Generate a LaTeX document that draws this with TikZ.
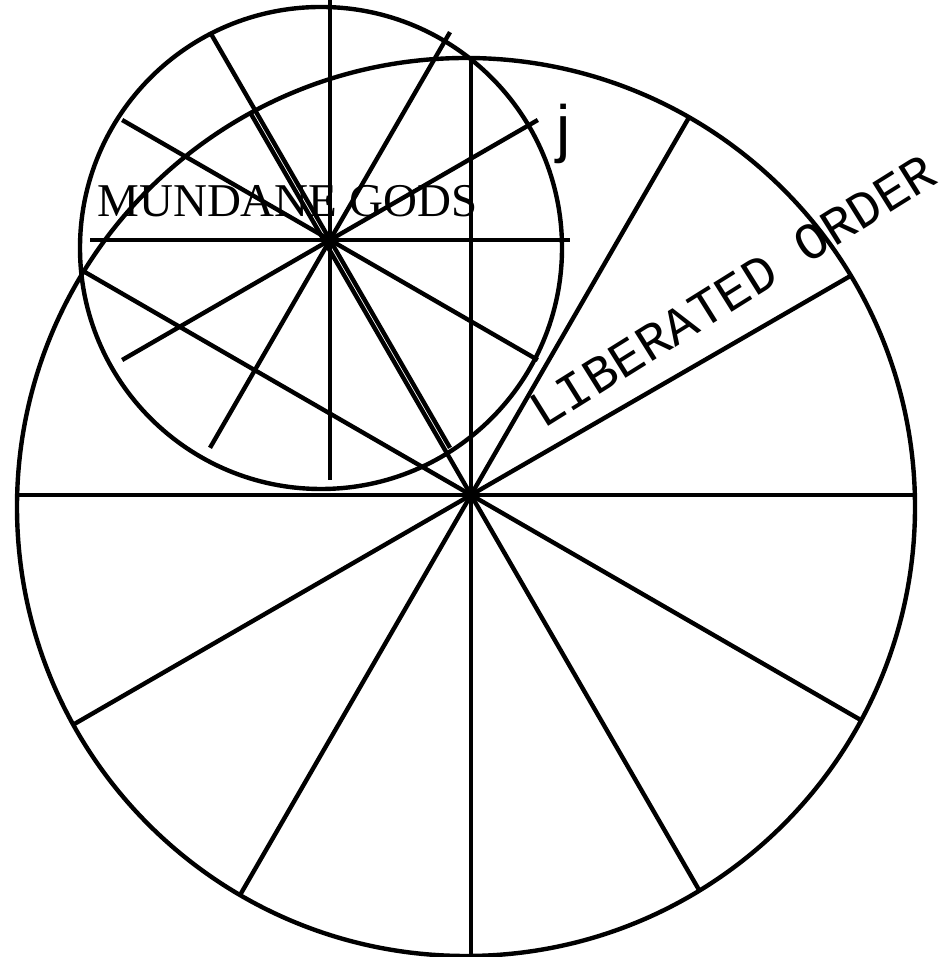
\documentclass[tikz,border=0pt]{standalone}
\usepackage{fontspec}
\newfontfamily\godsfont{Liberation Serif}
\newfontfamily\jfont{Liberation Sans}
\newfontfamily\orderfont{Liberation Mono}

\begin{document}
\begin{tikzpicture}[
    x=0.5pt, y=0.5pt,
    rim/.style={line width=2.2pt},
    spoke/.style={line width=2.2pt},
    lettering/.style={inner sep=0pt, anchor=base west}
]
\useasboundingbox (0,0) rectangle (951,957);
\coordinate (bigc) at (466,450);
\coordinate (bighub) at (471,462);
\coordinate (smallc) at (321,709);
\coordinate (smallhub) at (330,717);
% outer wheel, spokes run from the hub out to the rim
\draw[rim] (bigc) circle[radius=449];
\foreach \a in {0,30,...,330}
  \draw[spoke] (bighub) -- ++(\a:{100*(-(0.05*cos(\a)+0.12*sin(\a))+sqrt((0.05*cos(\a)+0.12*sin(\a))^2-0.0169+20.1601))});
% inner wheel
\draw[rim] (smallc) circle[radius=241];
\foreach \a in {0,30,...,150}
  \draw[spoke] (smallhub) -- +(\a:240) (smallhub) -- +({\a+180}:240);
\node[lettering, font=\godsfont\fontsize{23.5}{28}\selectfont] (gods) at (97,740) {MUNDANE GODS};
\node[lettering, font=\jfont\fontsize{32}{38}\selectfont] (jmark) at (556,806) {j};
\node[lettering, rotate=32, font=\orderfont\fontsize{26}{30}\selectfont] (order) at (543,527) {LIBERATED ORDER};
\end{tikzpicture}
\end{document}
